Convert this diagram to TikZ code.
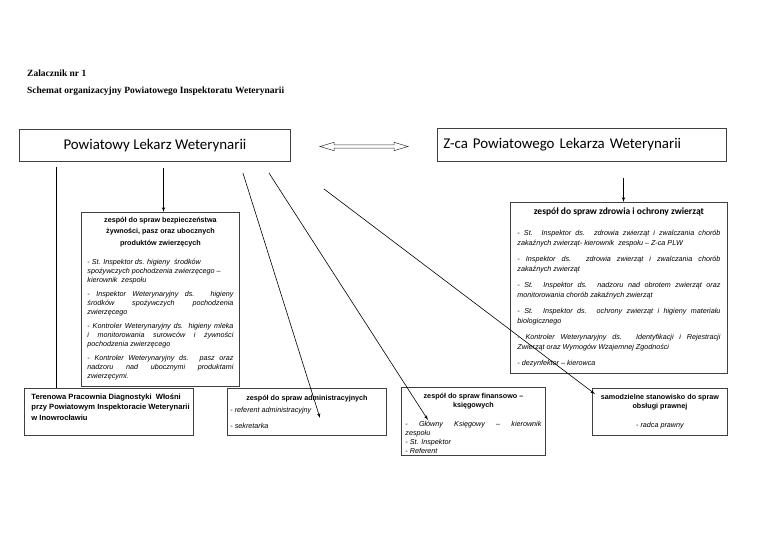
\documentclass[tikz,border=0pt]{standalone}
\usepackage{fontspec}
\setmainfont{Liberation Sans}
\newfontfamily\calibri{Carlito}
\newfontfamily\timesfont{Liberation Serif}
\usetikzlibrary{arrows}
\tikzstyle{chief}=[draw=black!75, line width=0.9pt, anchor=north west,
  inner sep=0pt, font=\calibri\fontsize{14.9}{16}\selectfont]
\tikzstyle{unit}=[draw=black!75, line width=0.9pt, anchor=north west,
  inner ysep=0pt, font=\fontsize{7.2}{9}\selectfont]
\tikzstyle{heading}=[anchor=base west, inner sep=0pt,
  font=\timesfont\bfseries\fontsize{9.5}{11}\selectfont]
\tikzstyle{link}=[draw=black!80, line width=0.5pt]
\tikzstyle{line} = [draw, line width=0.6pt, -latex']
\tikzstyle{plain} = [draw, line width=0.6pt]
% box of a unit: name, x sep, text width, height, text
\newcommand{\unitBox}[5]{node (#1) [unit, inner xsep=#2]
  {\parbox[t][#4][t]{#3}{#5}}}
% one justified line
\newcommand{\jl}[1]{\makebox[\linewidth][s]{#1}}
\newcommand{\ttl}{\bfseries\fontsize{7.2}{9}\selectfont}

\begin{document}
\begin{tikzpicture}[x=1pt, y=-1pt]
  \useasboundingbox (0,0) rectangle (768,543);

  % Headings
  \node[heading] (att) at (27,76.3) {Zalacznik nr 1};
  \node[heading] (title) at (27,93.3)
    {Schemat organizacyjny Powiatowego Inspektoratu Weterynarii};

  % Top boxes
  \node[chief, minimum width=271pt, minimum height=32pt] (plw) at (19,129)
    {Powiatowy Lekarz Weterynarii};
  \node[chief, text width=277pt, align=left, inner xsep=6pt, minimum height=33pt]
    (zca) at (437,128) {Z-ca Powiatowego Lekarza Weterynarii};
  % hollow double arrow between them
  \path[link] (320,146.5) -- (334,142.3) -- (334,144.8) -- (394,144.8)
    -- (394,142.3) -- (408,146.5) -- (394,150.7) -- (394,148.2)
    -- (334,148.2) -- (334,150.7) -- cycle;

  % Units
  \path (81,212) \unitBox{bezp}{6pt}{146pt}{174pt}{%
    {\centering\ttl\rule{0pt}{9.6pt}zespół do spraw bezpieczeństwa\\[2.5pt]
      żywności, pasz oraz ubocznych\\[2.5pt] produktów zwierzęcych\par}
    \vspace{10pt}\itshape\raggedright
    - St. Inspektor ds. higieny\ \ środków\\
    spożywczych pochodzenia zwierzęcego –\\ kierownik\ \ zespołu\\[5pt]
    \jl{- Inspektor Weterynaryjny ds. higieny}\\
    \jl{środków spożywczych pochodzenia}\\ zwierzęcego\\[5pt]
    \jl{- Kontroler Weterynaryjny ds. higieny mleka}\\
    \jl{i monitorowania surowców i żywności}\\ pochodzenia zwierzęcego\\[5pt]
    \jl{- Kontroler Weterynaryjny ds. pasz oraz}\\
    \jl{nadzoru nad ubocznymi produktami}\\ zwierzęcymi.};
  \path (510,202) \unitBox{zdrow}{7pt}{203pt}{171pt}{%
    {\centering\calibri\bfseries\fontsize{9.5}{11}\selectfont\rule{0pt}{12.5pt}%
      zespół do spraw zdrowia i ochrony zwierząt\par}
    \fontsize{7.2}{10}\selectfont\vspace{11pt}\itshape\raggedright
    \jl{- St. Inspektor ds. zdrowia zwierząt i zwalczania chorób}\\
    zakaźnych zwierząt- kierownik\ \ zespołu – Z-ca PLW\\[6pt]
    \jl{- Inspektor ds. zdrowia zwierząt i zwalczania chorób}\\
    zakaźnych zwierząt\\[6pt]
    \jl{- St. Inspektor ds. nadzoru nad obrotem zwierząt oraz}\\
    monitorowania chorób zakaźnych zwierząt\\[6pt]
    \jl{- St. Inspektor ds. ochrony zwierząt i higieny materiału}\\
    biologicznego\\[6pt]
    \jl{- Kontroler Weterynaryjny ds. Identyfikacji i Rejestracji}\\
    Zwierząt oraz Wymogów Wzajemnej Zgodności\\[6pt]
    - dezynfektor – kierowca};
  \path (24,388) \unitBox{teren}{7pt}{155pt}{47pt}{%
    \bfseries\fontsize{7.6}{9}\selectfont\raggedright
    \mbox{\rule{0pt}{10.6pt}Terenowa Pracownia Diagnostyki\ \ Włośni}\\[1.5pt]
    \mbox{przy Powiatowym Inspektoracie Weterynarii}\\[1.5pt]
    \mbox{w Inowrocławiu}};
  \path (227,388) \unitBox{admin}{3pt}{153pt}{47pt}{%
    {\centering\ttl\rule{0pt}{11.6pt}zespół do spraw administracyjnych\par}
    \vspace{3pt}\itshape\raggedright
    - referent administracyjny\\[7pt]
    - sekretarka};
  \path (401,387) \unitBox{finans}{4pt}{136pt}{68pt}{%
    {\centering\ttl\rule{0pt}{10.6pt}zespół do spraw finansowo –\\
      księgowych\par}
    \vspace{10pt}\itshape\raggedright
    \jl{- Główny Księgowy – kierownik}\\ zespołu\\ - St. Inspektor\\
    - Referent};
  \path (592,388) \unitBox{legal}{4pt}{127pt}{47pt}{%
    {\centering\ttl\rule{0pt}{10.6pt}samodzielne stanowisko do spraw\\
      obsługi prawnej\par}
    \vspace{10pt}{\centering\itshape - radca prawny\par}};

  % Connectors
  \coordinate (vtop) at (56,167);
  \path [plain] (vtop) -- (vtop |- teren.north);
  \path [line] ([xshift=8.5pt,yshift=-6pt]plw.south) -- ([xshift=3pt]bezp.north);
  \path [line] ([xshift=41.5pt,yshift=-16pt]zca.south) -- ([xshift=4.5pt]zdrow.north);
  \path [line] ([xshift=-48pt,yshift=-11pt]plw.south east)
    -- ([xshift=93pt,yshift=-30pt]admin.north west);
  \path [line] ([xshift=-22pt,yshift=-11pt]plw.south east)
    -- ([xshift=27pt,yshift=-33pt]finans.north west);
  \path [line] ([xshift=33pt,yshift=-27pt]plw.south east)
    -- ([xshift=3pt,yshift=-6pt]legal.north west);
\end{tikzpicture}
\end{document}
